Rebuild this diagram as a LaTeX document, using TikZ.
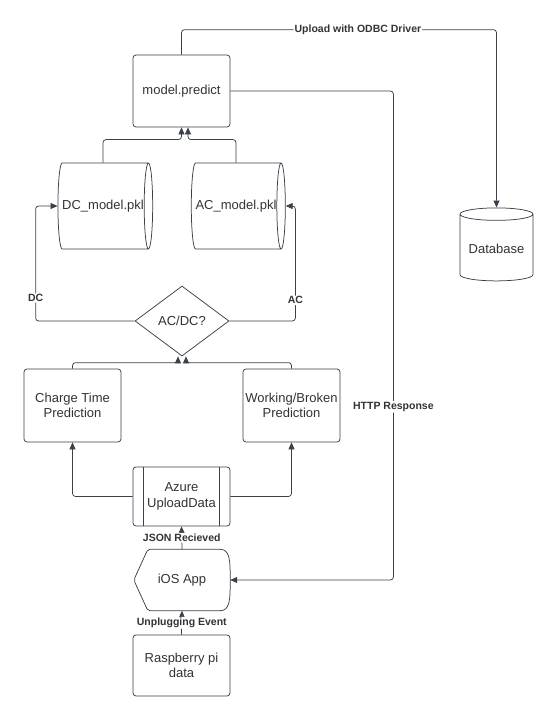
\documentclass[tikz,border=0pt]{standalone}
\usepackage{fontspec}
\setmainfont{Liberation Sans}
\usetikzlibrary{positioning, shapes.geometric, calc, arrows.meta}

\definecolor{linegray}{HTML}{3A414A}
\definecolor{textgray}{HTML}{333333}

\tikzset{
  box/.style={draw=linegray, line width=0.75pt, rectangle, rounded corners=3pt, minimum width=97pt, minimum height=72pt, align=center, inner sep=1pt, text=textgray, font=\fontsize{13}{15.5}\selectfont},
  store/.style={draw=linegray, line width=0.75pt, cylinder, aspect=0.7, minimum width=86pt, minimum height=62pt, inner sep=0pt, text=textgray, font=\fontsize{13}{15.5}\selectfont},
  lbl/.style={fill=white, inner sep=1pt, text=textgray, font=\fontsize{10.5}{12}\selectfont\bfseries},
  flow/.style={draw=linegray, line width=0.75pt, rounded corners=3pt, -{Triangle[length=7pt,width=6pt]}},
}

\begin{document}
\begin{tikzpicture}[x=1pt, y=1pt]
  \fill[white] (0,0) rectangle (558,-720);
  \useasboundingbox (0,0) rectangle (558,-720);

  % nodes
  \node[box] (predict) at (181.5,-91) {model.predict};
  \node[draw=linegray, line width=0.75pt, cylinder, shape border rotate=90, aspect=0.2, minimum width=73pt, minimum height=73pt, text=textgray, font=\fontsize{13}{15.5}\selectfont] (db) at (496.5,-249) {Database};
  \node[store] (dcmodel) at (103,-206) {DC\_model.pkl};
  \node[store] (acmodel) at (236,-206) {AC\_model.pkl};
  \node[draw=linegray, line width=0.75pt, diamond, minimum width=94pt, minimum height=70pt, inner sep=0pt, text=textgray, font=\fontsize{13}{15.5}\selectfont] (acdc) at (182,-321) {AC/DC?};
  \node[box, minimum height=73pt] (charge) at (72.5,-405.5) {Charge Time\\Prediction};
  \node[box, minimum height=73pt] (broken) at (291.5,-405.5) {Working/Broken\\Prediction};
  \node[box, minimum height=59pt] (azure) at (181.5,-496.5) {Azure\\UploadData};
  \node[minimum width=96pt, minimum height=61pt, text=textgray, font=\fontsize{13}{15.5}\selectfont] (ios) at (182,-580) {iOS App};
  \node[box, minimum height=61pt] (rasp) at (181.5,-665.5) {Raspberry pi\\data};

  % extra strokes of the azure and ios shapes
  \draw[linegray, line width=0.75pt] ($(azure.north west)+(11,0)$) -- ($(azure.south west)+(11,0)$)
    ($(azure.north east)+(-11,0)$) -- ($(azure.south east)+(-11,0)$);
  \draw[linegray, line width=0.75pt, rounded corners=2pt] (ios.west) -- ($(ios.north west)+(14,0)$) -- ($(ios.north east)+(-12,0)$)
    .. controls ($(ios.north east)+(0,0)$) and ($(ios.east)+(0,18)$) .. (ios.east)
    .. controls ($(ios.east)+(0,-18)$) and ($(ios.south east)+(0,0)$) .. ($(ios.south east)+(-12,0)$)
    -- ($(ios.south west)+(14,0)$) -- cycle;

  % connectors
  \path[flow] (predict.north) -- ++(0,25) -| node[lbl, pos=0.28] {Upload with ODBC Driver} (db.north);
  \path[flow] (predict.east) -- ++(163,0) |- node[lbl, pos=0.323] {HTTP Response} (ios.east);
  \path[flow] (dcmodel.north) -- ++(0,23) -| (predict.south);
  \path[flow] (acmodel.north) -- ++(0,23) -| ([xshift=6.5pt]predict.south);
  \path[flow] (acdc.west) -- ++(-99,0) |- node[lbl, pos=0.1] {DC} (dcmodel.west);
  \path[flow] (acdc.east) -- ++(66,0) |- node[lbl, pos=0.09] {AC} (acmodel.east);
  \path[flow] (charge.north) -- ++(0,6) -| ([xshift=-4pt]acdc.south);
  \path[flow] (broken.north) -- ++(0,6) -| ([xshift=4pt]acdc.south);
  \path[flow] (azure.west) -| (charge.south);
  \path[flow] (azure.east) -| (broken.south);
  \path[flow] (ios.north) -- node[lbl] {JSON Recieved} (azure.south);
  \path[flow] (rasp.north) -- node[lbl] {Unplugging Event} (ios.south);
\end{tikzpicture}
\end{document}
